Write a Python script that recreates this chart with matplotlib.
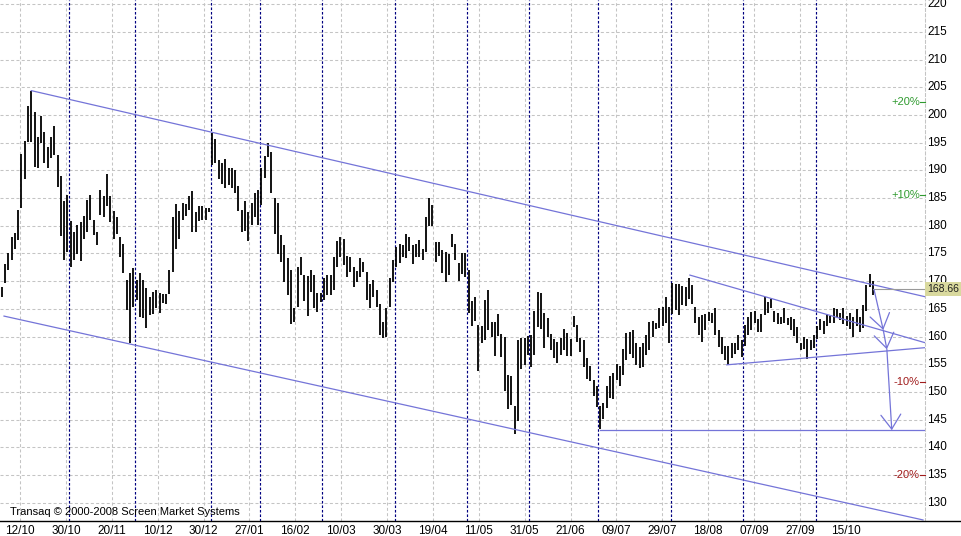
import numpy as np
import matplotlib.pyplot as plt
from matplotlib import font_manager
from matplotlib.lines import Line2D
from matplotlib.patches import Rectangle
import matplotlib.transforms as mtrans

# daily bars (high / low), 12/10/2007 .. end of 10/2008
highs = [169.0, 173.1, 175.0, 178.0, 178.7, 182.9, 193.0, 195.3, 201.6, 204.4,
         200.5, 196.1, 199.8, 196.9, 194.3, 196.0, 198.0, 192.8, 189.0, 184.5,
         185.6, 180.9, 178.9, 180.2, 180.6, 181.8, 184.7, 185.6, 181.0, 178.9,
         186.5, 185.4, 189.3, 185.4, 182.6, 181.6, 178.0, 176.8, 170.2, 171.5,
         172.3, 170.3, 171.5, 170.3, 168.7, 167.2,
         168.1, 168.4, 167.9, 167.7, 167.7, 172.1, 181.5, 183.9, 182.7, 184.2,
         183.9, 185.4, 186.2, 182.4, 183.6, 183.6, 183.3, 183.2, 196.7, 195.6,
         191.8, 191.4, 192.0, 190.4, 190.4, 190.0, 187.2, 182.9, 184.4, 182.4,
         184.1, 185.9, 186.5, 190.4, 192.6, 195.0, 193.4, 185.0, 184.2, 178.3,
         176.5, 174.1, 172.1, 165.1,
         172.5, 174.3, 171.1, 170.9, 172.0, 171.1, 167.9, 167.8, 170.5, 171.1,
         171.1, 174.3, 177.3, 177.9, 177.6, 174.5, 174.4, 172.5, 171.9, 174.1,
         173.5, 171.7, 169.5, 170.2, 168.4, 165.9, 162.7, 165.1, 170.5, 173.8,
         176.2, 176.7, 176.5, 178.6, 177.9, 176.5, 176.7, 177.4, 175.9, 181.5,
         185.1, 183.8, 177.1, 177.0,
         175.6, 175.3, 174.9, 178.6, 176.8, 173.3, 175.1, 175.1, 172.1, 166.5,
         167.1, 162.1, 161.9, 166.6, 168.4, 162.7, 162.7, 164.1, 160.5, 160.0,
         153.1, 152.8, 147.5, 159.3, 159.7, 159.7, 160.1, 160.3, 164.7, 168.1,
         167.9, 164.3, 163.3, 160.5, 159.5, 159.1, 159.7, 161.3, 160.6, 159.5,
         163.7, 162.1, 159.7, 159.3,
         156.2, 154.7, 152.2, 151.1, 147.5, 148.1, 151.0, 152.8, 153.5, 155.1,
         154.7, 157.7, 160.6, 160.9, 161.1, 158.8, 158.1, 158.8, 160.3, 162.7,
         162.9, 162.5, 165.1, 165.3, 167.1, 165.3, 169.7, 169.5, 169.5, 169.1,
         168.9, 170.5, 169.3, 165.4, 163.5, 163.9, 164.1, 164.5, 164.3, 165.1,
         161.2, 160.0, 158.3, 158.3,
         158.8, 158.9, 160.3, 159.4, 162.1, 163.5, 164.5, 164.7, 163.1, 164.1,
         167.2, 166.3, 166.7, 164.7, 164.3, 163.6, 165.1, 163.3, 163.5, 163.1,
         161.7, 158.9, 159.9, 159.5, 159.4, 160.3, 161.9, 163.1, 162.9, 164.1,
         163.7, 165.1, 164.9, 164.2, 165.1, 163.7, 164.3, 163.6, 164.9, 163.5,
         165.7, 169.3, 171.3, 170.1]
lows = [167.2, 169.7, 172.0, 173.8, 175.9, 177.4, 183.3, 188.4, 195.2, 195.2,
        190.7, 190.5, 194.9, 191.4, 190.4, 192.2, 192.7, 187.0, 178.2, 173.9,
        175.2, 172.5, 173.9, 174.9, 173.7, 177.6, 178.9, 181.0, 178.3, 176.5,
        182.0, 181.5, 183.6, 180.6, 177.7, 178.5, 174.4, 171.4, 164.8, 158.8,
        165.4, 166.6, 163.6, 163.3, 161.5, 163.9,
        164.1, 165.1, 164.3, 166.0, 165.9, 167.7, 171.7, 175.9, 177.7, 181.0,
        181.8, 182.9, 178.8, 178.8, 180.9, 181.0, 181.0, 182.4, 191.0, 191.4,
        188.4, 187.5, 186.8, 187.4, 186.8, 186.0, 182.6, 178.8, 179.0, 177.3,
        180.1, 181.6, 180.1, 183.8, 188.6, 192.5, 186.0, 178.6, 174.9, 173.5,
        169.9, 167.5, 162.3, 162.7,
        165.4, 171.1, 166.5, 163.7, 168.1, 165.1, 164.5, 166.3, 166.6, 167.5,
        167.5, 168.4, 172.6, 174.4, 172.9, 170.8, 171.7, 169.0, 169.9, 170.8,
        171.7, 166.6, 165.1, 167.2, 165.3, 160.3, 159.7, 160.0, 165.4, 169.9,
        172.5, 173.3, 174.3, 174.1, 175.5, 173.1, 174.4, 174.4, 173.8, 175.2,
        180.0, 179.9, 173.5, 174.5,
        171.4, 169.9, 171.1, 176.1, 173.9, 170.1, 171.3, 170.8, 164.3, 161.9,
        162.9, 153.7, 158.8, 159.4, 161.1, 160.0, 156.5, 160.1, 156.3, 150.2,
        147.0, 147.6, 142.4, 144.8, 154.1, 154.9, 156.7, 154.6, 156.7, 161.7,
        161.3, 157.9, 159.9, 157.6, 156.1, 155.2, 156.7, 157.6, 156.5, 156.5,
        161.7, 159.1, 157.3, 154.5,
        152.3, 151.9, 149.2, 147.2, 143.3, 145.1, 147.1, 149.0, 148.7, 152.2,
        151.1, 153.1, 155.7, 156.9, 156.1, 154.9, 154.3, 154.5, 156.7, 157.5,
        160.0, 161.3, 161.5, 161.9, 162.5, 158.8, 164.1, 164.8, 163.9, 165.7,
        165.5, 166.7, 165.9, 162.4, 160.3, 159.1, 161.2, 162.9, 162.4, 160.3,
        158.1, 156.9, 155.8, 154.9,
        156.1, 156.9, 157.6, 156.3, 158.3, 160.3, 161.2, 162.5, 160.9, 160.9,
        163.9, 164.2, 165.1, 162.7, 162.3, 162.3, 162.4, 162.1, 161.2, 160.1,
        158.8, 157.5, 157.7, 155.9, 157.5, 157.9, 159.5, 161.1, 160.5, 161.9,
        162.4, 162.5, 163.5, 163.0, 162.3, 161.9, 161.3, 160.0, 161.9, 160.9,
        161.5, 164.7, 169.0, 167.5]
last_close = 168.66

date_labels = ['12/10', '30/10', '20/11', '10/12', '30/12', '27/01', '16/02',
               '10/03', '30/03', '19/04', '11/05', '31/05', '21/06', '09/07',
               '29/07', '18/08', '07/09', '27/09', '15/10']
first_tick_bar = 5.6
tick_step = 13.95
month_first_bar = [21, 41, 64, 79, 98, 120, 142, 161, 182, 204, 226, 248]
price_ticks = list(range(130, 221, 5))
pct_levels = [20, 10, -10, -20]

# hand-drawn lines: (bar0, price0, bar1, price1)
trend_lines = [
    (9, 204.4, 280.8, 167.2),      # channel top
    (0.7, 163.7, 280.2, 126.9),    # channel bottom
    (182, 143.1, 280.8, 143.1),    # support
    (209.3, 171.1, 280.8, 158.9),  # triangle top
    (220.5, 154.9, 280.8, 158.0),  # triangle bottom
]
arrows = [
    (265.3, 168.5, 268.1, 161.2),
    (268.1, 161.2, 269.2, 157.7),
    (269.2, 157.7, 270.7, 143.1),
]

names = {f.name for f in font_manager.fontManager.ttflist}
base_font = 'Liberation Sans Narrow' if 'Liberation Sans Narrow' in names else 'Liberation Sans'
plt.rcParams['font.family'] = base_font
fs = 8.5

blue = '#7474d8'
grid_c = '#c4c4c4'

fig = plt.figure(figsize=(9.62, 5.36), dpi=100)
ax = fig.add_axes([0, 15 / 536, 925 / 962, 521 / 536])
ax.set_xlim(-0.52, 280.8)
ax.set_ylim(126.71, 220.76)

x = np.arange(len(highs))
tick_pos = first_tick_bar + tick_step * np.arange(len(date_labels))

for v in price_ticks:
    ax.axhline(v, color=grid_c, lw=0.75, ls=(0, (2.9, 2.2)), zorder=0)
for t in tick_pos:
    ax.axvline(t, color=grid_c, lw=0.75, ls=(0, (2.9, 2.2)), zorder=0)
for m in month_first_bar:
    ax.axvline(m - 0.5, color='#000080', lw=0.85, ls=(0, (2.2, 1.6)), zorder=1)

ax.vlines(x, lows, highs, color='black', lw=1.3, zorder=3)

for x0, y0, x1, y1 in trend_lines:
    ax.plot([x0, x1], [y0, y1], color=blue, lw=0.9, zorder=4)
ax.plot([x[-1], 280.8], [last_close, last_close], color='#999999', lw=0.8, zorder=4)
for x0, y0, x1, y1 in arrows:
    ax.annotate('', xy=(x1, y1), xytext=(x0, y0),
                arrowprops=dict(arrowstyle='->,head_length=0.8,head_width=0.55',
                                color=blue, lw=0.9, shrinkA=0, shrinkB=0,
                                mutation_scale=13), zorder=4)

ax.set_xticks(tick_pos, date_labels)
ax.tick_params(axis='x', length=0, pad=3, labelsize=fs)
ax.set_yticks([])
for s in ['top', 'left', 'bottom']:
    ax.spines[s].set_visible(False)
ax.spines['right'].set_color(grid_c)
ax.spines['right'].set_linestyle((0, (2.9, 2.2)))
ax.spines['right'].set_linewidth(0.75)

trans = mtrans.blended_transform_factory(ax.transAxes, ax.transData)
for v in price_ticks:
    ax.text(927 / 925, v, str(v), transform=trans, ha='left', va='center',
            fontsize=fs, clip_on=False, zorder=5)

for p in pct_levels:
    lvl = last_close * (1 + p / 100)
    col = '#2f9a2f' if p > 0 else '#a01c1c'
    ax.text(920 / 925, lvl, f'{p:+d}%', transform=trans, ha='right', va='center',
            fontsize=8, color=col, zorder=5)
    ax.plot([920.5 / 925, 1.0], [lvl, lvl], transform=trans, color=col, lw=0.8,
            clip_on=False, zorder=5)

box_h = 14 / 5.54
ax.add_patch(Rectangle((1.0, last_close - box_h / 2), 37 / 925, box_h,
                       transform=trans, facecolor='#d9d99e', edgecolor='none',
                       clip_on=False, zorder=6))
ax.text(943.5 / 925, last_close, f'{last_close:.2f}', transform=trans, ha='center',
        va='center', fontsize=7.5, color='#202020', clip_on=False, zorder=7)

fig.text(10 / 962, 1 - 512 / 536, 'Transaq \u00a9 2000-2008 Screen Market Systems',
         fontsize=8, va='center', ha='left')
fig.add_artist(Line2D([0, 1], [15 / 536, 15 / 536], transform=fig.transFigure,
                      color='black', lw=1.0))

fig.savefig('out.png', dpi=100, facecolor='white')
